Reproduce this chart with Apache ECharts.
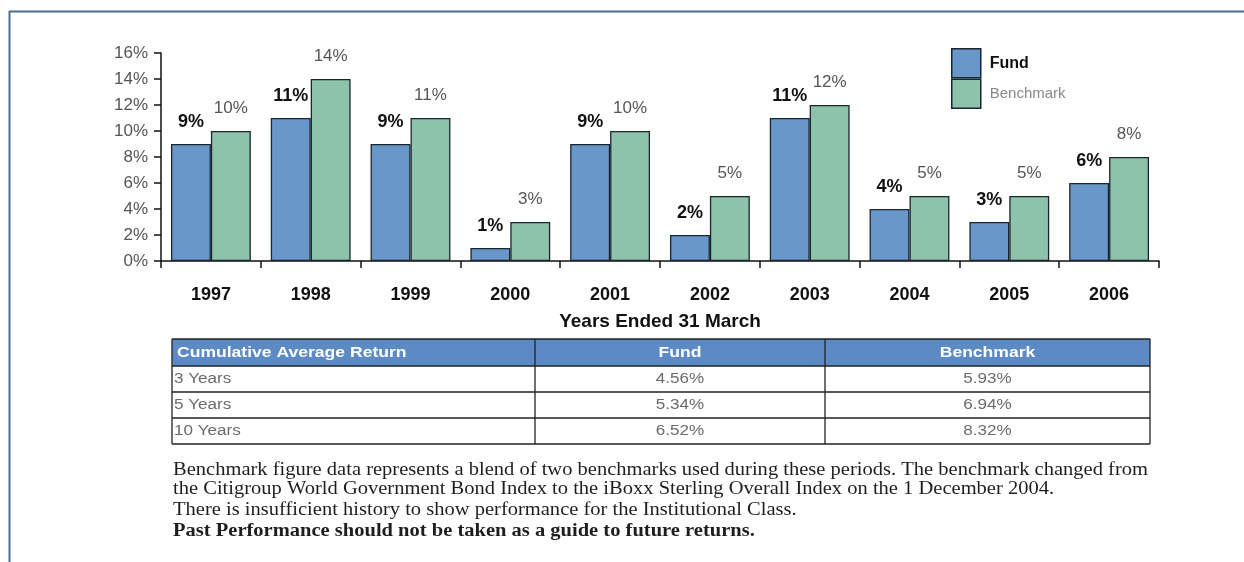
<!DOCTYPE html>
<html>
<head>
<meta charset="utf-8">
<script src="https://cdn.jsdelivr.net/npm/echarts@6/dist/echarts.min.js"></script>
<style>
  html, body { margin: 0; padding: 0; background: #fff; }
  #chart { width: 1244px; height: 562px; }
</style>
</head>
<body>
<div id="chart"></div>
<script>
const years = ["1997", "1998", "1999", "2000", "2001", "2002", "2003", "2004", "2005", "2006"];
const fund = [9, 11, 9, 1, 9, 2, 11, 4, 3, 6];
const benchmark = [10, 14, 11, 3, 10, 5, 12, 5, 5, 8];

const tableHead = ["Cumulative Average Return", "Fund", "Benchmark"];
const tablePeriods = ["3 Years", "5 Years", "10 Years"];
const tableFund = ["4.56%", "5.34%", "6.52%"];
const tableBench = ["5.93%", "6.94%", "8.32%"];

const notes = [
  "Benchmark figure data represents a blend of two benchmarks used during these periods. The benchmark changed from",
  "the Citigroup World Government Bond Index to the iBoxx Sterling Overall Index on the 1 December 2004.",
  "There is insufficient history to show performance for the Institutional Class.",
  "Past Performance should not be taken as a guide to future returns."
];

const FUND_COLOR = "#6897c9";
const BENCH_COLOR = "#8ec3ab";
const SANS = "Liberation Sans, Arial, sans-serif";

// table layout
const colX = [172, 535, 825, 1150];
const rowY = [339, 366, 392, 418, 444];

const buildTable = () => {
  const els = [];
  els.push({
    type: "rect",
    shape: { x: colX[0], y: rowY[0], width: colX[3] - colX[0], height: rowY[1] - rowY[0] },
    style: { fill: "#5b8ac4" }
  });
  tableHead.forEach((t, i) => {
    els.push({
      type: "text",
      x: i === 0 ? colX[0] + 5 : (colX[i] + colX[i + 1]) / 2,
      y: (rowY[0] + rowY[1]) / 2,
      scaleX: 1.17,
      style: {
        text: t, fill: "#fff", font: "bold 15px " + SANS,
        align: i === 0 ? "left" : "center", verticalAlign: "middle"
      }
    });
  });
  tablePeriods.forEach((p, r) => {
    const cy = (rowY[r + 1] + rowY[r + 2]) / 2;
    [p, tableFund[r], tableBench[r]].forEach((t, i) => {
      els.push({
        type: "text",
        x: i === 0 ? colX[0] + 2 : (colX[i] + colX[i + 1]) / 2,
        y: cy,
        scaleX: 1.22,
        style: {
          text: t, fill: "#6a6a6a", font: "14px " + SANS,
          align: i === 0 ? "left" : "center", verticalAlign: "middle"
        }
      });
    });
  });
  // grid lines
  rowY.forEach(y => {
    els.push({ type: "line", shape: { x1: colX[0], y1: y, x2: colX[3], y2: y }, style: { stroke: "#222", lineWidth: 1.3 } });
  });
  colX.forEach(x => {
    els.push({ type: "line", shape: { x1: x, y1: rowY[0], x2: x, y2: rowY[4] }, style: { stroke: "#222", lineWidth: 1.3 } });
  });
  return els;
};

const buildNotes = () => {
  const ys = [470, 489, 510, 531];
  return notes.map((t, i) => ({
    type: "text",
    x: 173,
    y: ys[i],
    scaleX: 1.14,
    style: {
      text: t, fill: "#1e1e1e",
      font: (i === 3 ? "bold " : "") + "18px Liberation Serif, Times New Roman, serif",
      verticalAlign: "middle"
    }
  }));
};

const chart = echarts.init(document.getElementById("chart"));

const option = {
  animation: false,
  backgroundColor: "#fff",
  grid: { left: 161, right: 85, top: 53, bottom: 301 },
  legend: {
    orient: "vertical",
    left: 951,
    top: 48,
    padding: 0,
    itemWidth: 29,
    itemHeight: 29,
    itemGap: 0,
    icon: "rect",
    selectedMode: false,
    data: [
      { name: "Fund", textStyle: { fontWeight: "bold", color: "#111", fontSize: 16 } },
      { name: "Benchmark", textStyle: { color: "#888", fontSize: 15 } }
    ],
    textStyle: { fontFamily: SANS, padding: [6, 0, 0, 4] },
    itemStyle: { borderColor: "#1a2530", borderWidth: 1.5 }
  },
  xAxis: {
    type: "category",
    data: years,
    name: "Years Ended 31 March",
    nameLocation: "middle",
    nameGap: 51,
    nameTextStyle: { fontFamily: SANS, fontWeight: "bold", fontSize: 19, color: "#111" },
    axisLine: { lineStyle: { color: "#111", width: 1.5 } },
    axisTick: { show: true, length: 7, lineStyle: { color: "#111", width: 1.5 } },
    axisLabel: { fontFamily: SANS, fontWeight: "bold", fontSize: 18, color: "#111", margin: 25 }
  },
  yAxis: {
    type: "value",
    min: 0,
    max: 16,
    interval: 2,
    splitLine: { show: false },
    axisLine: { show: true, lineStyle: { color: "#111", width: 1.5 } },
    axisTick: { show: true, length: 7, lineStyle: { color: "#111", width: 1.5 } },
    axisLabel: { formatter: "{value}%", fontFamily: SANS, fontSize: 17, color: "#555", margin: 13 }
  },
  series: [
    {
      name: "Fund",
      type: "bar",
      data: fund,
      barGap: "0%",
      barCategoryGap: "20%",
      itemStyle: { color: FUND_COLOR, borderColor: "#1a2530", borderWidth: 1.3 },
      label: {
        show: true, position: "top", distance: 13, formatter: "{c}%",
        fontFamily: SANS, fontWeight: "bold", fontSize: 18, color: "#111"
      }
    },
    {
      name: "Benchmark",
      type: "bar",
      data: benchmark,
      itemStyle: { color: BENCH_COLOR, borderColor: "#1a2530", borderWidth: 1.3 },
      label: {
        show: true, position: "top", distance: 14, formatter: "{c}%",
        fontFamily: SANS, fontSize: 17, color: "#555"
      }
    }
  ],
  graphic: [
    { type: "line", shape: { x1: 9, y1: 11.5, x2: 1244, y2: 11.5 }, style: { stroke: "#4a6d96", lineWidth: 2 } },
    { type: "line", shape: { x1: 9.5, y1: 11, x2: 9.5, y2: 562 }, style: { stroke: "#4a6d96", lineWidth: 2 } },
    ...buildTable(),
    ...buildNotes()
  ]
};

chart.setOption(option);
</script>
</body>
</html>
